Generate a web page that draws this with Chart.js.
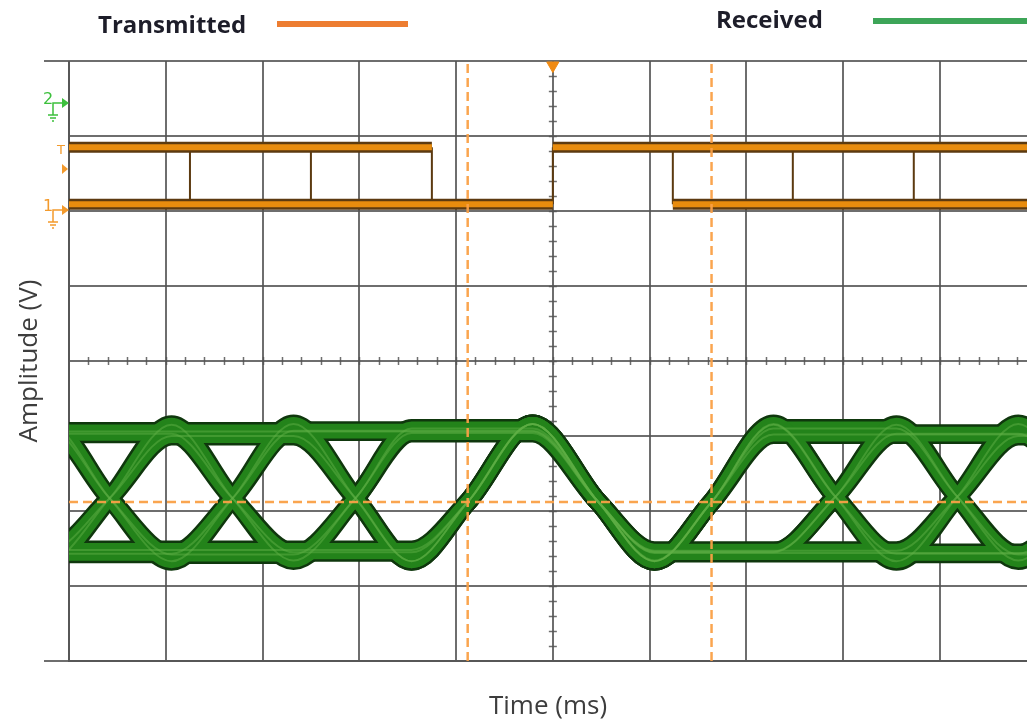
<!DOCTYPE html>
<html>
<head>
<meta charset="utf-8">
<title>Transmitted / Received</title>
<script src="https://cdn.jsdelivr.net/npm/chart.js@4.4.1/dist/chart.umd.min.js"></script>
<style>
  html, body { margin: 0; padding: 0; background: #fff; }
  #wrap { position: relative; width: 1027px; height: 722px; overflow: hidden; font-family: "Open Sans", sans-serif; }
  #scope { position: absolute; left: 0; top: 0; }
  .key { position: absolute; font-weight: 700; font-size: 24px; line-height: 30px; color: #1d1d29; white-space: nowrap; }
  .swatch { position: absolute; height: 6px; }
</style>
</head>
<body>
<div id="wrap">
  <canvas id="scope" width="1027" height="722"></canvas>
  <div class="key" style="left:98px; top:9px;">Transmitted</div>
  <div class="swatch" style="left:277px; top:21px; width:131px; background:#ed7d31;"></div>
  <div class="key" style="left:716px; top:4px;">Received</div>
  <div class="swatch" style="left:873px; top:18px; width:160px; background:#3da558;"></div>
</div>
<script>
'use strict';

//DATA (time in divisions, amplitude in divisions from the bottom of the screen)

// transmitted: the two logic levels, where each level is present, and the edges
var txLevel = [6.09, 6.85];               // logic 0, logic 1
var txHighRuns = [0, 3.75, 5.00, 10.5];   // start/end pairs
var txLowRuns = [0, 5.00, 6.24, 10.5];
var txEdges = [1.25, 2.50, 3.75, 5.00, 6.24, 7.48, 8.73];

// received: crossing points and bit centres, then one row per overlaid sweep
var rxTime = [-0.84, -0.21, 0.42, 1.06, 1.69, 2.32, 2.96, 3.54, 4.12, 4.79, 5.47, 6.05, 6.64, 7.28, 7.92, 8.55, 9.18, 9.81, 10.44];
var rxSweep1 = [3.06, 3.06, 3.06, 3.06, 3.06, 3.06, 3.06, 3.06, 3.06, 3.06, 2.12, 1.44, 1.44, 1.44, 1.44, 1.44, 1.44, 1.44, 1.44];
var rxSweep2 = [1.48, 1.48, 1.48, 1.48, 1.48, 1.48, 1.48, 1.48, 2.12, 3.16, 2.12, 1.33, 2.12, 3.02, 3.02, 3.02, 3.02, 3.02, 3.02];
var rxSweep3 = [2.17, 3.16, 2.17, 1.33, 2.17, 3.16, 2.17, 1.33, 2.12, 3.16, 2.12, 1.33, 2.12, 3.16, 2.19, 1.33, 2.19, 3.16, 2.19];
var rxSweep4 = [2.17, 1.34, 2.17, 3.15, 2.17, 1.34, 2.17, 3.04, 3.04, 3.04, 2.12, 1.46, 1.46, 1.46, 2.19, 3.15, 2.19, 1.34, 2.19];
var rxSweep5 = [3.10, 3.10, 2.17, 1.42, 1.42, 1.42, 2.17, 3.10, 3.10, 3.10, 2.12, 1.33, 2.12, 3.10, 3.10, 3.10, 2.19, 1.42, 1.42];
var rxSweep6 = [1.47, 1.47, 2.17, 3.00, 3.00, 3.00, 2.17, 1.33, 2.12, 3.16, 2.12, 1.47, 1.47, 1.47, 1.47, 1.47, 2.19, 3.00, 3.00];
var rxSweep7 = [2.17, 1.43, 1.43, 1.43, 2.17, 3.07, 3.07, 3.07, 3.07, 3.07, 2.12, 1.34, 2.12, 3.15, 2.19, 1.43, 1.43, 1.43, 2.19];
var rxSweep8 = [2.17, 3.03, 3.03, 3.03, 2.17, 1.45, 1.45, 1.45, 2.12, 3.16, 2.12, 1.45, 1.45, 1.45, 2.19, 3.03, 3.03, 3.03, 2.19];

// cursors and trigger
var cursorTimes = [4.12, 6.64];
var cursorLevel = [2.12];
var triggerTime = [5.00];

//STYLE
var gridColor = 'rgba(85,85,85,0.85)';
var txFill = '#e88c0e';
var txEdge = '#5c3a10';
var rxFill = '#23831a';
var rxEdge = '#0f370d';
var rxShine = 'rgba(95,175,70,0.5)';
var cursorColor = 'rgba(250,160,70,0.95)';

//FUNCTIONS
function runsToPoints(runs, level) {
   var pts = [];
   for (var i = 0; i < runs.length; i += 2) {
      pts.push({x: runs[i], y: level}, {x: runs[i + 1], y: level}, {x: runs[i + 1], y: null});
   }
   return pts;
}

function edgesToPoints(edges) {
   var pts = [];
   for (var i = 0; i < edges.length; i++) {
      pts.push({x: edges[i], y: txLevel[0]}, {x: edges[i], y: txLevel[1]}, {x: edges[i], y: null});
   }
   return pts;
}

function sweepToPoints(sweep) {
   return rxTime.map(function (t, i) { return {x: t, y: sweep[i]}; });
}

var datasets = [];

// received eye: dark outlines first, then the green body, then a faint highlight
[rxSweep1, rxSweep2, rxSweep3, rxSweep4, rxSweep5, rxSweep6, rxSweep7, rxSweep8].forEach(function (s) {
   var pts = sweepToPoints(s);
   datasets.push({data: pts, borderColor: rxEdge, borderWidth: 19, order: 5, cubicInterpolationMode: 'monotone', pointRadius: 0, clip: 0});
   datasets.push({data: pts, borderColor: rxFill, borderWidth: 14, order: 4, cubicInterpolationMode: 'monotone', pointRadius: 0, clip: 0});
   datasets.push({data: pts, borderColor: rxShine, borderWidth: 2, order: 3, cubicInterpolationMode: 'monotone', pointRadius: 0, clip: 0});
});

// transmitted square wave
datasets.push({data: edgesToPoints(txEdges), borderColor: txEdge, borderWidth: 2, order: 5, pointRadius: 0, clip: 0});
[runsToPoints(txHighRuns, txLevel[1]), runsToPoints(txLowRuns, txLevel[0])].forEach(function (pts) {
   datasets.push({data: pts, borderColor: txEdge, borderWidth: 11, order: 5, pointRadius: 0, clip: 0});
   datasets.push({data: pts, borderColor: txFill, borderWidth: 6, order: 4, pointRadius: 0, clip: 0});
});

// cursors
var vCursor = [];
cursorTimes.forEach(function (t) { vCursor.push({x: t, y: 0}, {x: t, y: 8}, {x: t, y: null}); });
datasets.push({data: vCursor, borderColor: cursorColor, borderWidth: 2.5, borderDash: [9, 5], order: 1, pointRadius: 0, clip: 0});
datasets.push({data: [{x: 0, y: cursorLevel[0]}, {x: 10, y: cursorLevel[0]}], borderColor: cursorColor, borderWidth: 2.5, borderDash: [9, 5], order: 1, pointRadius: 0, clip: 0});

// trigger position marker on the top edge
datasets.push({data: triggerTime.map(function (t) { return {x: t, y: 7.94}; }), showLine: false, pointStyle: 'triangle', rotation: 180, pointRadius: 7,
   pointBackgroundColor: '#f08a12', pointBorderColor: '#f08a12', order: 0, clip: false});

//PLUGIN: centre-line minor ticks and channel markers
var scopeMarks = {
   id: 'scopeMarks',
   beforeDatasetsDraw: function (chart) {
      var ctx = chart.ctx, xs = chart.scales.x, ys = chart.scales.y;
      var cx = xs.getPixelForValue(5), cy = ys.getPixelForValue(4);
      ctx.save();
      ctx.strokeStyle = gridColor;
      ctx.lineWidth = 1.5;
      ctx.beginPath();
      for (var v = 0.2; v < 8; v += 0.2) {
         var py = Math.round(ys.getPixelForValue(v)) + 0.5;
         ctx.moveTo(cx - 4, py); ctx.lineTo(cx + 4, py);
      }
      for (var u = 0.2; u < 10; u += 0.2) {
         var px = Math.round(xs.getPixelForValue(u)) + 0.5;
         ctx.moveTo(px, cy - 4); ctx.lineTo(px, cy + 4);
      }
      ctx.stroke();
      ctx.restore();
   },
   afterDraw: function (chart) {
      var ctx = chart.ctx, ys = chart.scales.y, left = chart.chartArea.left;
      function marker(label, level, color) {
         var py = Math.round(ys.getPixelForValue(level));
         ctx.fillStyle = color; ctx.strokeStyle = color; ctx.lineWidth = 1.5;
         ctx.font = '16px "DejaVu Sans"';
         ctx.textAlign = 'left'; ctx.textBaseline = 'middle';
         ctx.fillText(label, left - 26, py - 3);
         ctx.beginPath();
         ctx.moveTo(left - 16, py + 9); ctx.lineTo(left - 16, py); ctx.lineTo(left - 7, py);
         ctx.moveTo(left - 16, py + 9); ctx.lineTo(left - 16, py + 12);
         ctx.moveTo(left - 21, py + 12); ctx.lineTo(left - 11, py + 12);
         ctx.moveTo(left - 19, py + 15); ctx.lineTo(left - 13, py + 15);
         ctx.moveTo(left - 17, py + 18); ctx.lineTo(left - 15, py + 18);
         ctx.stroke();
         ctx.beginPath();
         ctx.moveTo(left - 7, py - 5); ctx.lineTo(left, py); ctx.lineTo(left - 7, py + 5); ctx.closePath();
         ctx.fill();
      }
      ctx.save();
      marker('2', 7.44, '#3cc03c');
      marker('1', 6.01, '#f39a2c');
      var ty = Math.round(ys.getPixelForValue(6.80));
      ctx.fillStyle = '#f39a2c';
      ctx.font = '13px "DejaVu Sans"';
      ctx.textAlign = 'left'; ctx.textBaseline = 'middle';
      ctx.fillText('T', left - 12, ty);
      var ay = Math.round(ys.getPixelForValue(6.56));
      ctx.beginPath();
      ctx.moveTo(left - 7, ay - 5); ctx.lineTo(left - 1, ay); ctx.lineTo(left - 7, ay + 5); ctx.closePath();
      ctx.fill();
      ctx.restore();
   }
};

//CHART
var titleFont = {family: '"Open Sans", sans-serif', size: 26, lineHeight: 1.15};

new Chart(document.getElementById('scope'), {
   type: 'line',
   data: {datasets: datasets},
   plugins: [scopeMarks],
   options: {
      responsive: false,
      animation: false,
      events: [],
      capBezierPoints: false,
      spanGaps: false,
      layout: {autoPadding: false, padding: {top: 61, right: 0, bottom: 0, left: 0}},
      plugins: {legend: {display: false}, tooltip: {enabled: false}},
      scales: {
         x: {
            type: 'linear', min: 0, max: 9.9,
            ticks: {display: false, stepSize: 1, includeBounds: false},
            grid: {color: gridColor, lineWidth: 2, drawTicks: false},
            border: {color: gridColor, width: 2},
            title: {display: true, text: 'Time (ms)', font: titleFont, color: '#3d3d3d', padding: {top: 0, bottom: 0}},
            afterFit: function (scale) { scale.height = 61; }
         },
         y: {
            type: 'linear', min: 0, max: 8,
            ticks: {display: false, stepSize: 1, includeBounds: false},
            grid: {
               color: gridColor, lineWidth: 2, tickLength: 25,
               tickColor: function (c) { return (c.index === 0 || c.index === 8) ? gridColor : 'rgba(0,0,0,0)'; }
            },
            border: {color: gridColor, width: 2},
            title: {display: true, text: 'Amplitude (V)', font: titleFont, color: '#3d3d3d', padding: {top: 15, bottom: 0}},
            afterFit: function (scale) { scale.width = 69; }
         }
      }
   }
});
</script>
</body>
</html>
